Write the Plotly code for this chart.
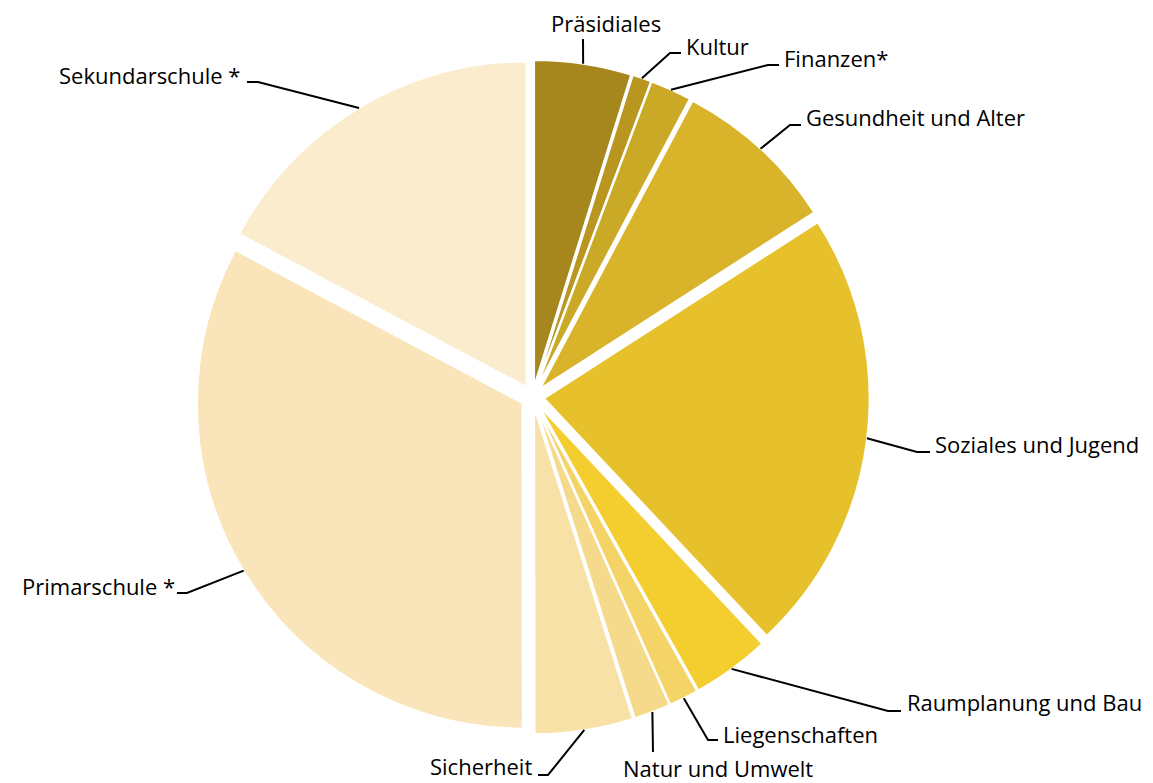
import math
import plotly.graph_objects as go

# ---- data ----
labels = ["Präsidiales", "Kultur", "Finanzen*", "Gesundheit und Alter",
          "Soziales und Jugend", "Raumplanung und Bau", "Liegenschaften",
          "Natur und Umwelt", "Sicherheit", "Primarschule *", "Sekundarschule *"]
values = [4.8, 0.92, 2.03, 8.14, 22.1, 3.86, 1.44, 1.8, 4.86, 32.8, 17.2]

# ---- style ----
colors = ["#A6871D", "#B8961F", "#CAA926", "#D9B42A", "#E6C12C", "#F4CD2F",
          "#F4D467", "#F6DA8C", "#F8E1A6", "#F9E5B9", "#FAECCC"]
PULL = 0.037
OFF = 8  # page body margin
W, H = 1145, 775
ML, MR, MT, MB = 92, 188, 52, 49
PW, PH = W - ML - MR, H - MT - MB
FONT_SIZE = 22

# label layout in page pixels: (text x, text y, xanchor, leader points after the slice edge)
label_layout = {
    "Präsidiales": (606, 23, "center", [(583, 39)]),
    "Kultur": (684, 46, "left", [(670, 53), (681, 53)]),
    "Finanzen*": (782, 58, "left", [(768, 65), (779, 65)]),
    "Gesundheit und Alter": (804, 117, "left", [(790, 125), (801, 125)]),
    "Soziales und Jugend": (933, 444, "left", [(917, 452), (930, 452)]),
    "Raumplanung und Bau": (905, 702, "left", [(888, 711), (901, 711)]),
    "Liegenschaften": (721, 734, "left", [(708, 740), (718, 740)]),
    "Natur und Umwelt": (718, 768, "center", [(653, 752)]),
    "Sicherheit": (534, 766, "right", [(548, 775), (538, 775)]),
    "Primarschule *": (177, 586, "right", [(187, 593), (177, 593)]),
    "Sekundarschule *": (242, 75, "right", [(258, 82), (247, 82)]),
}

fig = go.Figure(go.Pie(
    labels=labels, values=values, sort=False, direction="clockwise", rotation=0,
    pull=[PULL] * len(values), textinfo="none", hoverinfo="skip",
    marker=dict(colors=colors, line=dict(color="white", width=1.5)),
    showlegend=False, domain=dict(x=[0, 1], y=[0, 1]),
))

# geometry as plotly computes it (page coordinates)
cx = OFF + ML + PW / 2
cy = OFF + MT + PH / 2
r = min(PW, PH) / (2 + 2 * PULL)
r_out = r * (1 + PULL)

def px2paper(x, y):
    return (x - OFF - ML) / PW, 1 - (y - OFF - MT) / PH

total = sum(values)
cum = 0.0
shapes, annotations = [], []
for lab, v in zip(labels, values):
    mid = (cum + v / 2) / total * 2 * math.pi
    cum += v
    sx = cx + r_out * math.sin(mid)
    sy = cy - r_out * math.cos(mid)
    tx, ty, anchor, pts = label_layout[lab]
    allpts = [(sx, sy)] + pts
    path = ""
    for i, (x, y) in enumerate(allpts):
        X, Y = px2paper(x, y)
        path += ("M" if i == 0 else " L") + f"{X:.5f},{Y:.5f}"
    shapes.append(dict(type="path", xref="paper", yref="paper", path=path,
                       line=dict(color="black", width=2)))
    X, Y = px2paper(tx, ty)
    annotations.append(dict(x=X, y=Y, xref="paper", yref="paper", text=lab,
                            showarrow=False, xanchor=anchor, yanchor="middle",
                            font=dict(family="Open Sans", size=FONT_SIZE, color="black")))

fig.update_layout(
    width=W, height=H, margin=dict(l=ML, r=MR, t=MT, b=MB, autoexpand=False),
    paper_bgcolor="white", plot_bgcolor="white",
    shapes=shapes, annotations=annotations,
)
fig.write_html("out.html")
